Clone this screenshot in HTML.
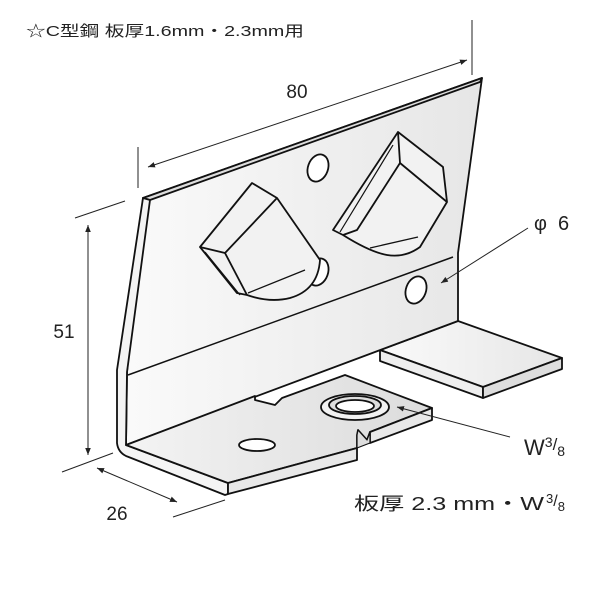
<!DOCTYPE html>
<html><head><meta charset="utf-8"><style>
html,body{margin:0;padding:0;background:#fff;width:600px;height:600px;overflow:hidden}
svg{display:block}
text{font-family:"Liberation Sans","Noto Sans CJK JP",sans-serif;fill:#222}
</style></head><body>
<svg width="600" height="600" viewBox="0 0 600 600" xmlns="http://www.w3.org/2000/svg">
<defs>
<linearGradient id="g" x1="0" y1="0" x2="1" y2="0"><stop offset="0" stop-color="#fafafa"/><stop offset="1" stop-color="#e6e6e6"/></linearGradient>
<linearGradient id="g2" x1="0" y1="0" x2="1" y2="0"><stop offset="0" stop-color="#f3f3f3"/><stop offset="1" stop-color="#dcdcdc"/></linearGradient>
<marker id="a" viewBox="0 0 10 10" refX="10" refY="5" markerWidth="7" markerHeight="7" orient="auto-start-reverse"><path d="M0,1 L10,5 L0,9 z" fill="#222"/></marker>
</defs>
<text x="26" y="36" font-size="15" textLength="278" lengthAdjust="spacingAndGlyphs">☆C型鋼 板厚1.6mm・2.3mm用</text>

<g stroke="#111" stroke-width="1.8" stroke-linejoin="round" fill="url(#g)">
<polygon points="380,350 458,321 562,358 483,387"/>
<polygon points="380,350 483,387 483,398 380,361" fill="#eee"/>
<polygon points="483,387 562,358 562,369 483,398" fill="#ddd"/>
<polygon points="143,198 482,78 458,253 458,321 126,445 127,372"/>
<polygon points="143,198 150,200 480,82 482,78" fill="#ddd"/>
<path d="M143,198 L117,370 L117,443 Q118,452 126,456 L225,495 L228,494 L228,483 L126,445 L127,372 L150,200 Z" fill="#f4f4f4"/>
<line x1="128" y1="375" x2="453" y2="257" stroke-width="1.5"/>
<polygon points="126,445 255,396 255,400 275,405 282,398 345,375 432,408 370,432 367,440 358,430 357,435 357,448 228,483" fill="url(#g2)"/>
<polygon points="357,448 357,460 228,494 228,483" fill="#e8e8e8"/>
<polygon points="432,408 432,420 370,443 370,432" fill="#e8e8e8"/>
<polygon points="358,430 367,440 370,432 370,443 357,448 357,435" fill="#ddd" stroke-width="1.2"/>
<ellipse cx="355" cy="407" rx="34" ry="13" fill="#f2f2f2"/>
<ellipse cx="355" cy="405" rx="26" ry="9" fill="#ddd"/>
<ellipse cx="355" cy="406" rx="19" ry="6" fill="#fff"/>
<ellipse cx="257" cy="445" rx="18" ry="6" fill="#fff"/>
<ellipse cx="318" cy="168" rx="10" ry="14" transform="rotate(20 318 168)" fill="#fff"/>
<ellipse cx="318" cy="272" rx="10" ry="14" transform="rotate(20 318 272)" fill="#fff"/>
<ellipse cx="416" cy="290" rx="10" ry="14" transform="rotate(20 416 290)" fill="#fff"/>
<path d="M252,183 L277,198 L320,260 Q318,290 290,298 Q270,303 247,295 L237,293 L200,247 Z" fill="#f2f2f2"/>
<path d="M200,247 L225,253 L277,198" fill="none"/>
<path d="M225,253 L247,295" fill="none"/>
<path d="M205,252 L240,295" fill="none" stroke-width="1.2"/>
<path d="M248,293 L305,270" fill="none" stroke-width="1.3"/>
<path d="M398,132 L443,167 L447,202 L420,247 Q405,258 387,255 Q370,252 343,235 L333,230 Z" fill="#f2f2f2"/>
<path d="M398,132 L400,163 L447,202" fill="none"/>
<path d="M400,163 L357,230 L343,235" fill="none"/>
<path d="M393,145 L340,232" fill="none" stroke-width="1.2"/>
<path d="M370,248 L418,237" fill="none" stroke-width="1.3"/>
</g>

<g stroke="#222" stroke-width="1" fill="none">
<line x1="138" y1="147" x2="138" y2="188"/>
<line x1="472" y1="20" x2="472" y2="75"/>
<line x1="148" y1="167" x2="467" y2="60" marker-start="url(#a)" marker-end="url(#a)"/>
<line x1="75" y1="218" x2="125" y2="201"/>
<line x1="62" y1="472" x2="113" y2="453"/>
<line x1="88" y1="225" x2="88" y2="455" marker-start="url(#a)" marker-end="url(#a)"/>
<line x1="97" y1="468" x2="177" y2="502" marker-start="url(#a)" marker-end="url(#a)"/>
<line x1="173" y1="517" x2="225" y2="500"/>
<line x1="528" y1="228" x2="441" y2="283" marker-end="url(#a)"/>
<line x1="510" y1="437" x2="397" y2="407" marker-end="url(#a)"/>
</g>
<text x="297" y="98" font-size="19" text-anchor="middle">80</text>
<text x="64" y="338" font-size="19" text-anchor="middle">51</text>
<text x="117" y="520" font-size="19" text-anchor="middle">26</text>
<text x="534" y="230" font-size="20">φ</text>
<text x="558" y="230" font-size="20">6</text>
<text x="524" y="455" font-size="22">W<tspan font-size="14" dy="-8">3</tspan><tspan font-size="17" dy="3">/</tspan><tspan font-size="14" dy="6">8</tspan></text>
<text x="354" y="510" font-size="18" textLength="190" lengthAdjust="spacingAndGlyphs">板厚 2.3 mm・W</text>
<text x="546" y="510" font-size="13"><tspan dy="-7">3</tspan><tspan font-size="16" dy="3">/</tspan><tspan dy="5">8</tspan></text>
</svg>
</body></html>
